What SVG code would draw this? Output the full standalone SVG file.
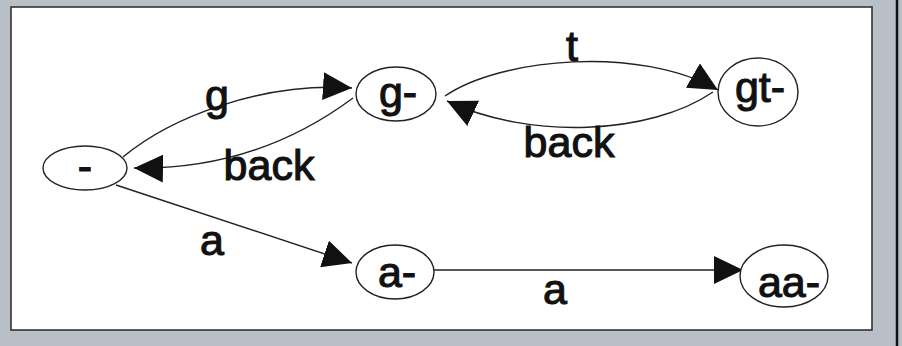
<svg xmlns="http://www.w3.org/2000/svg" width="902" height="346" viewBox="0 0 902 346">
<defs>
<style>
.node ellipse{fill:#fff;stroke:#222;stroke-width:1.4}
.lbl{font-family:"Liberation Sans",Arial,sans-serif;font-size:43px;fill:#111;stroke:#111;stroke-width:1.1;text-anchor:middle}
.edge{fill:none;stroke:#222;stroke-width:1.4}
</style>
<marker id="arr" markerUnits="userSpaceOnUse" markerWidth="30" markerHeight="28" refX="29" refY="14" orient="auto" viewBox="0 0 30 28">
<path d="M0,0 L29,14 L0,28 Z" fill="#111"/>
</marker>
</defs>
<rect x="0" y="0" width="902" height="346" fill="#b9bfc7"/>
<rect x="11" y="7" width="861" height="323" fill="#fff" stroke="#333" stroke-width="1.6"/>
<line x1="897" y1="0" x2="897" y2="346" stroke="#111" stroke-width="2.5"/>

<g id="connectors">
<path class="edge" d="M123,157 C170,118 260,82 352,88" marker-end="url(#arr)"/>
<path class="edge" d="M353,98 C310,130 240,170 134,168" marker-end="url(#arr)"/>
<path class="edge" d="M445,96 C500,58 640,45 718,90" marker-end="url(#arr)"/>
<path class="edge" d="M713,92 C650,135 530,140 447,101" marker-end="url(#arr)"/>
<path class="edge" d="M116,185 L352,263" marker-end="url(#arr)"/>
<path class="edge" d="M434,270 L743,270" marker-end="url(#arr)"/>
<text class="lbl" x="217" y="110">g</text>
<text class="lbl" x="269" y="180">back</text>
<text class="lbl" x="572" y="61">t</text>
<text class="lbl" x="569" y="157">back</text>
<text class="lbl" x="212" y="255">a</text>
<text class="lbl" x="555" y="304">a</text>
</g>

<g id="node-root" class="node">
<ellipse cx="85" cy="168" rx="42" ry="22"/>
<text class="lbl" x="85" y="181">-</text>
</g>
<g id="node-g" class="node">
<ellipse cx="396" cy="94" rx="40" ry="27"/>
<text class="lbl" x="398" y="107">g-</text>
</g>
<g id="node-gt" class="node">
<ellipse cx="758" cy="92" rx="40" ry="34"/>
<text class="lbl" x="760" y="102">gt-</text>
</g>
<g id="node-a" class="node">
<ellipse cx="395" cy="272" rx="39" ry="27"/>
<text class="lbl" x="397" y="287">a-</text>
</g>
<g id="node-aa" class="node">
<ellipse cx="784" cy="276" rx="44" ry="31"/>
<text class="lbl" x="789" y="297">aa-</text>
</g>
</svg>
